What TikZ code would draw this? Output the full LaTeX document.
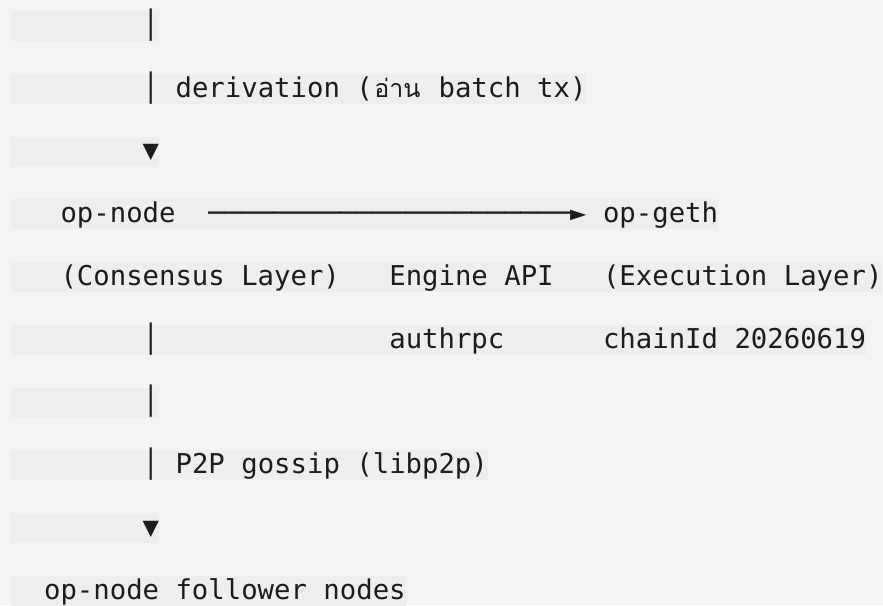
\documentclass[tikz,border=0pt]{standalone}
\usepackage{fontspec}
\newfontfamily\cmono{DejaVu Sans Mono}
\newfontfamily\thaifont[Script=Thai]{Loma}
\definecolor{bgc}{HTML}{F4F4F4}
\definecolor{hlc}{HTML}{EEEEEE}
\definecolor{txc}{HTML}{1C1C1C}
\def\cw{16.44}
\begin{document}
\begin{tikzpicture}[x=1pt,y=-1pt,
  txt/.style={anchor=base west, inner sep=0pt, font=\cmono\fontsize{27.3}{30}\selectfont, text=txc},
  hl/.style={fill=hlc, draw=none}]
\fill[bgc] (0,0) rectangle (883,605);
\useasboundingbox (0,0) rectangle (883,605);
% highlight bars (line lengths in character cells)
\foreach \n/\len in {1/9,2/35,3/9,4/43,5/53,6/52,7/9,8/29,9/9,10/24}{
  \fill[hlc] (11,{11+(\n-1)*62.75}) rectangle ({11+\len*\cw},{41+(\n-1)*62.75});
}
% line 1
\node[txt] (b1) at ({11+8*\cw},{34.3}) {│};
% line 2
\node[txt] (b2) at ({11+8*\cw},{34.3+62.75}) {│};
\node[txt] (deriv) at ({11+10*\cw},{34.3+62.75}) {derivation (\makebox[49.32pt][c]{\thaifont\fontsize{25}{30}\selectfont อ่าน} batch tx)};
% line 3
\node[txt] (a1) at ({11+8*\cw},{34.3+2*62.75}) {▼};
% line 4
\node[txt] (opnode) at ({11+3*\cw},{34.3+3*62.75}) {op-node};
\node[txt] (engarrow) at ({11+12*\cw},{34.3+3*62.75}) {──────────────────────►};
\node[txt] (opgeth) at ({11+36*\cw},{34.3+3*62.75}) {op-geth};
% line 5
\node[txt] (cl) at ({11+3*\cw},{34.3+4*62.75}) {(Consensus Layer)};
\node[txt] (eng) at ({11+23*\cw},{34.3+4*62.75}) {Engine API};
\node[txt] (el) at ({11+36*\cw},{34.3+4*62.75}) {(Execution Layer)};
% line 6
\node[txt] (b3) at ({11+8*\cw},{34.3+5*62.75}) {│};
\node[txt] (auth) at ({11+23*\cw},{34.3+5*62.75}) {authrpc};
\node[txt] (chain) at ({11+36*\cw},{34.3+5*62.75}) {chainId 20260619};
% line 7
\node[txt] (b4) at ({11+8*\cw},{34.3+6*62.75}) {│};
% line 8
\node[txt] (b5) at ({11+8*\cw},{34.3+7*62.75}) {│};
\node[txt] (p2p) at ({11+10*\cw},{34.3+7*62.75}) {P2P gossip (libp2p)};
% line 9
\node[txt] (a2) at ({11+8*\cw},{34.3+8*62.75}) {▼};
% line 10
\node[txt] (foll) at ({11+2*\cw},{34.3+9*62.75}) {op-node follower nodes};
\end{tikzpicture}
\end{document}
